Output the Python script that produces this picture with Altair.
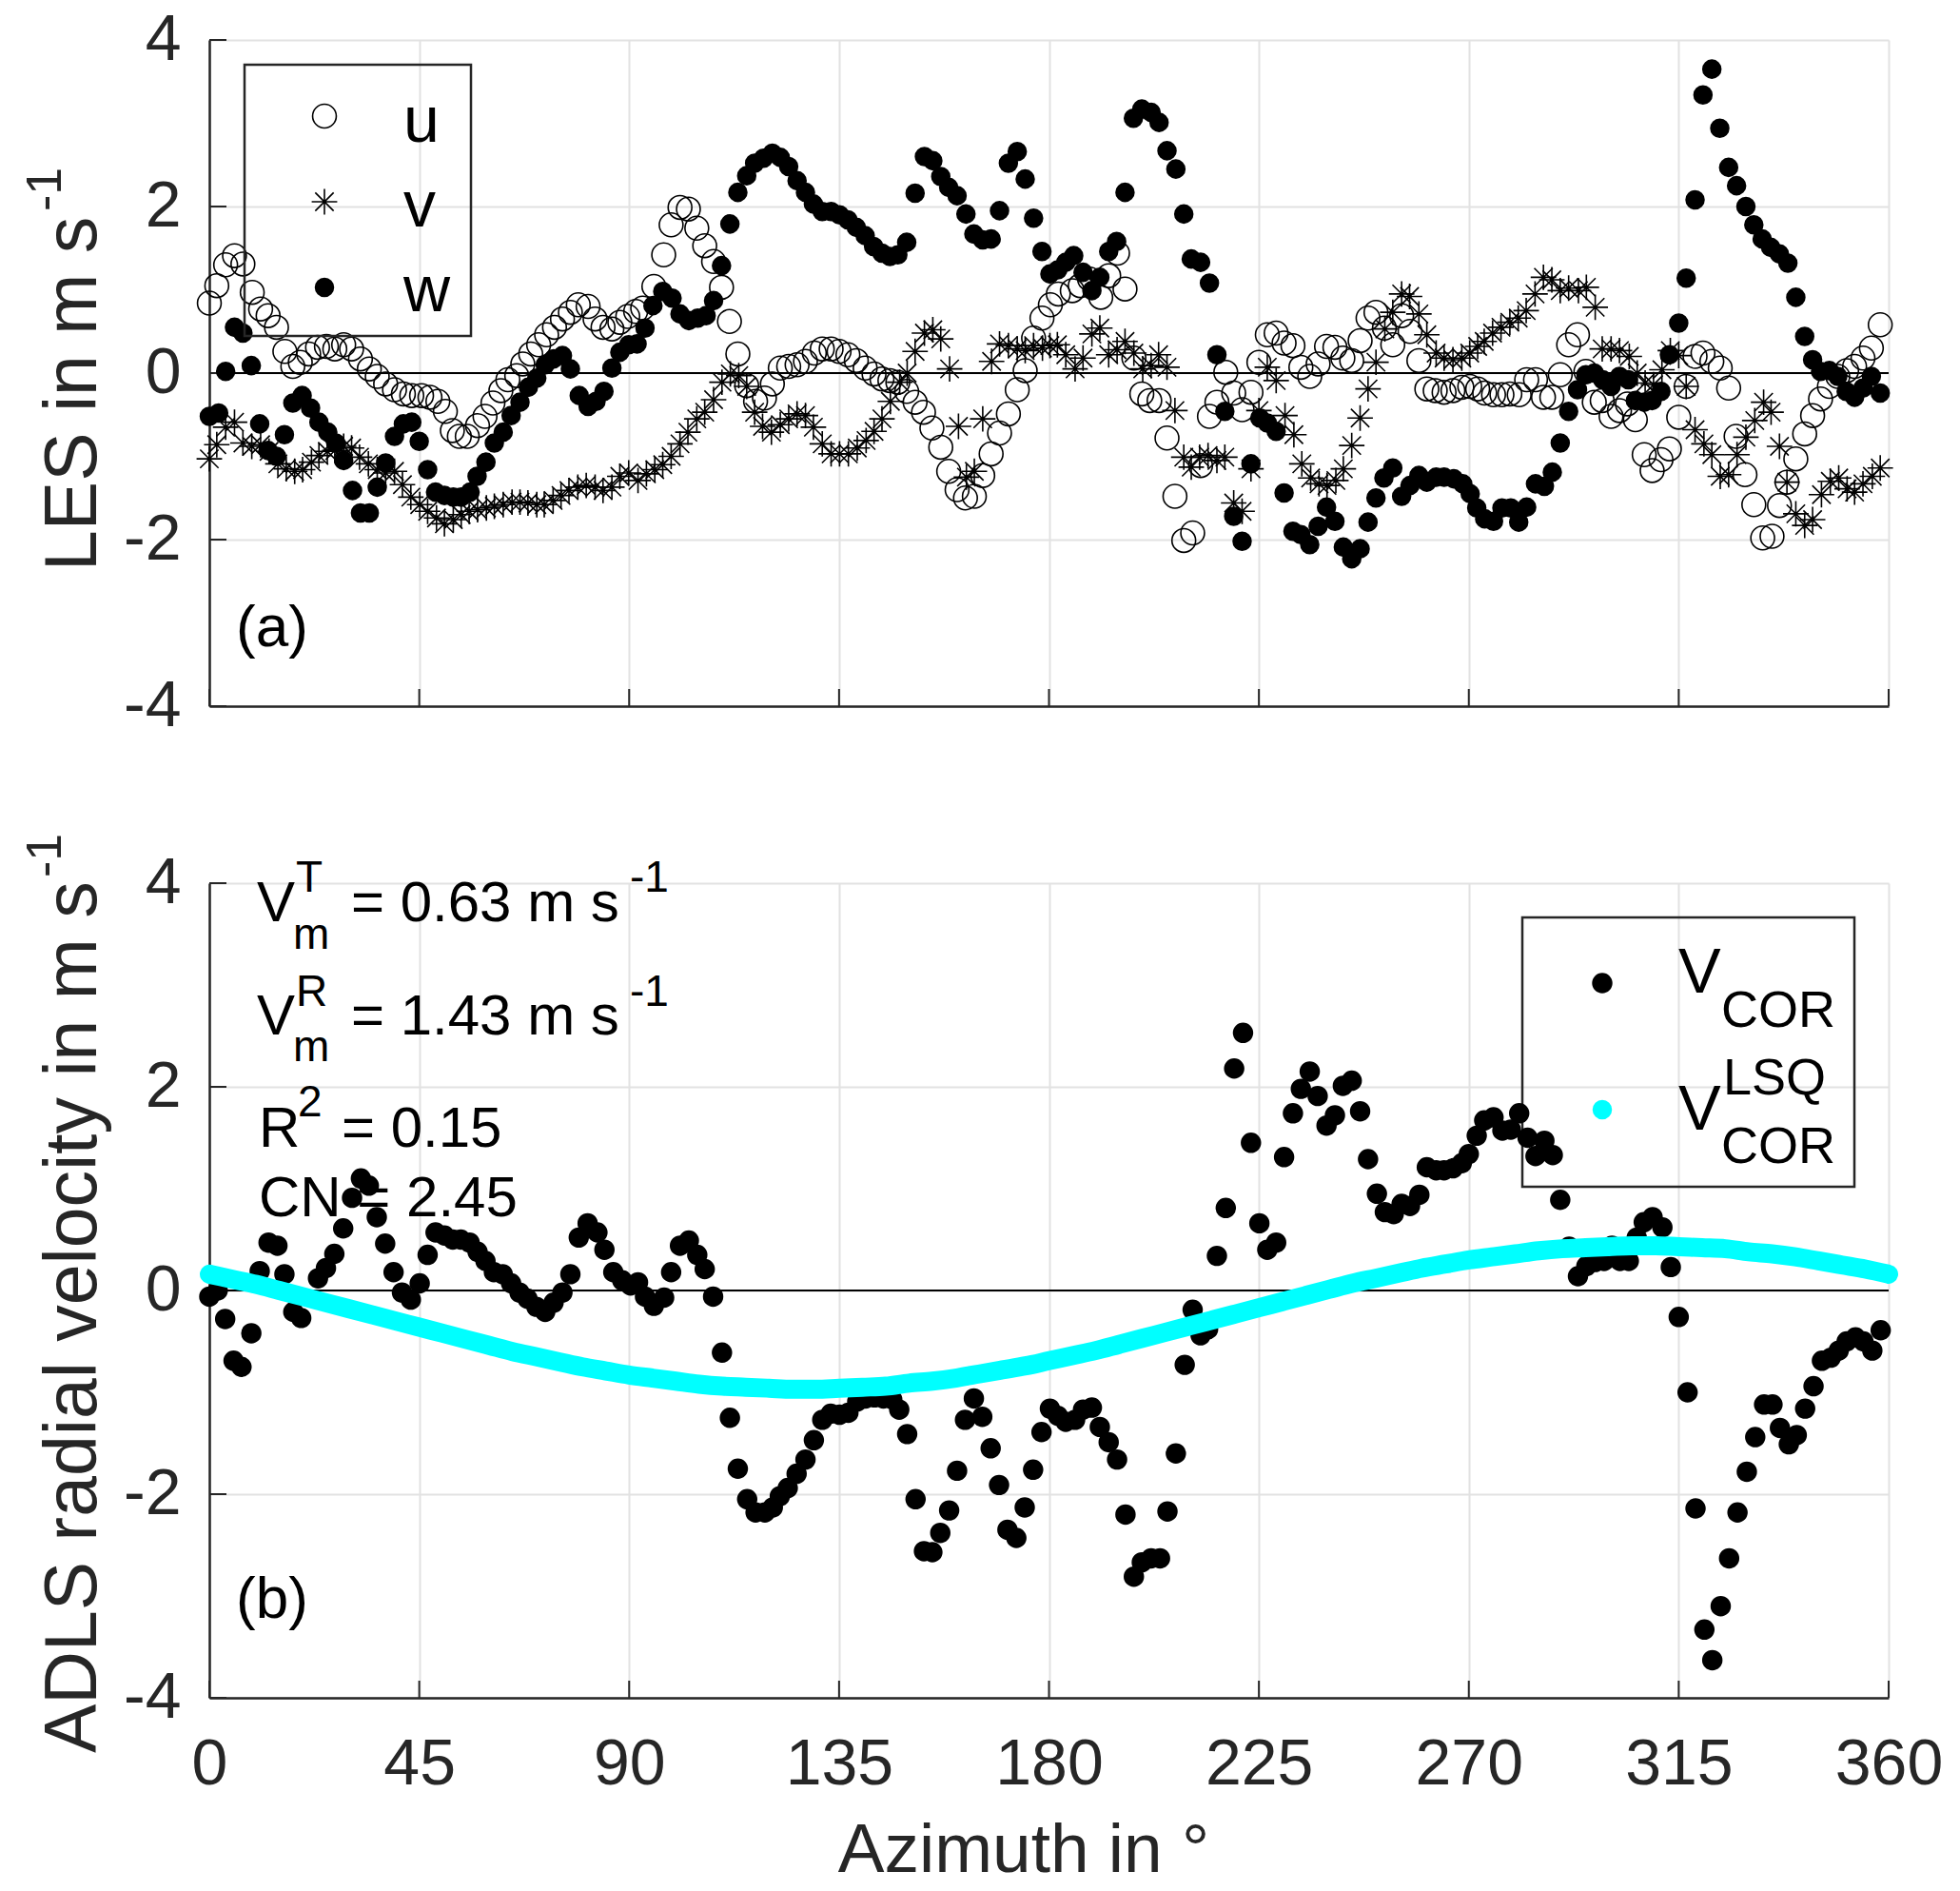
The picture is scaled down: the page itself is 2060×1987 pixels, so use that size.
import altair as alt
import pandas as pd

FONT = "Liberation Sans"
INK = "#262626"

# ---- panel (a): LES u, v, w ----
u_az = [0, 1.6, 3.5, 5.4, 7.2, 9.2, 11, 12.6, 14.4, 16.2, 17.9, 19.5, 21.3, 23.2, 25.1, 26.9, 28.8, 30.5, 32.4, 34.3,
        36, 37.8, 39.7, 41.6, 43.4, 45.5, 47.3, 49, 50.6, 52.1, 53.6, 55.3, 57.5, 59.1, 60.8, 62.5, 64, 65.9, 67.2, 68.9,
        70.6, 72.3, 74, 75.7, 77.4, 79.1, 81.2, 82.7, 84.4, 86.3, 88, 89.7, 91.4, 92.9, 95.3, 97.4, 99, 100.9, 102.7, 104.5,
        106.2, 108.1, 109.8, 111.5, 113.3, 115.2, 117.1, 119, 120.7, 122.4, 124.2, 126, 127.8, 129.7, 131.4, 133.3, 135,
        136.9, 138.7, 140.6, 142.5, 144.2, 145.9, 147.6, 149.5, 151.3, 153.1, 154.9, 156.8, 158.5, 160.3, 162.1, 164,
        165.8, 167.6, 169.4, 171.3, 173.2, 174.9, 176.7, 178.5, 180.3, 182, 185, 186.7, 188.7, 191.1, 192.8, 194.7, 196.3,
        198.2, 199.9, 201.6, 203.6, 205.3, 207, 208.9, 210.8, 212.5, 214.4, 216, 217.9, 219.6, 221.4, 223.3, 225, 226.8,
        228.7, 230.4, 232.3, 234, 235.9, 237.7, 239.5, 241.3, 243, 244.9, 246.7, 248.4, 250.1, 251.9, 253.7, 255.6, 257.4,
        259.3, 261, 262.8, 264.7, 266.6, 268.5, 270.2, 271.9, 273.4, 275.3, 277.1, 278.8, 280.8, 282.4, 284.3, 286, 287.8,
        289.6, 291.4, 293.3, 295.1, 296.9, 298.6, 300.5, 302.3, 304, 305.7, 307.6, 309.3, 311.2, 313, 315, 316.6, 318.5,
        320.2, 322.1, 323.9, 325.7, 327.3, 329.2, 331.1, 333, 335, 336.6, 338.2, 340.1, 342, 343.7, 345.4, 347.3, 349.1,
        351, 352.7, 354.5, 356.3, 358.2]
u_val = [0.84, 1.05, 1.30, 1.41, 1.31, 0.97, 0.77, 0.69, 0.55, 0.26, 0.08, 0.13, 0.23, 0.31, 0.32, 0.29, 0.34, 0.29, 0.17, 0.05,
         -0.04, -0.13, -0.20, -0.25, -0.27, -0.27, -0.29, -0.34, -0.46, -0.69, -0.76, -0.76, -0.63, -0.52, -0.36, -0.21, -0.08, -0.03, 0.11, 0.23,
         0.34, 0.46, 0.55, 0.65, 0.73, 0.82, 0.80, 0.65, 0.55, 0.53, 0.61, 0.68, 0.74, 0.78, 1.04, 1.42, 1.78, 1.99, 1.97, 1.74,
         1.53, 1.34, 1.03, 0.62, 0.23, -0.15, -0.34, -0.30, -0.13, 0.06, 0.08, 0.10, 0.14, 0.24, 0.29, 0.29, 0.26,
         0.22, 0.15, 0.06, -0.01, -0.07, -0.09, -0.11, -0.22, -0.35, -0.47, -0.66, -0.89, -1.18, -1.40, -1.50, -1.48,
         -1.23, -0.97, -0.72, -0.49, -0.20, 0.03, 0.42, 0.66, 0.82, 0.95, 0.99, 1.05, 1.13, 0.91, 1.17, 1.44, 1.01,
         0.18, -0.25, -0.33, -0.33, -0.78, -1.48, -2.01, -1.92, -1.11, -0.52, -0.35, 0.01, -0.24, -0.44, -0.23, 0.13, 0.46,
         0.48, 0.36, 0.33, 0.07, -0.04, 0.11, 0.32, 0.31, 0.18, 0.15, 0.39, 0.66, 0.73, 0.54, 0.34, 0.69, 0.50,
         0.15, -0.19, -0.21, -0.23, -0.21, -0.17, -0.16, -0.19, -0.24, -0.26, -0.26, -0.25, -0.26, -0.08, -0.08, -0.29, -0.29,
         -0.02, 0.34, 0.46, 0.02, -0.35, -0.33, -0.52, -0.45, -0.37, -0.56, -0.98, -1.17, -1.04, -0.91, -0.53, -0.16, 0.20,
         0.24, 0.14, 0.06, -0.18, -0.76, -1.22, -1.58, -1.98, -1.96, -1.59, -1.31, -1.03, -0.73, -0.51, -0.31, -0.16, -0.04,
         0.03, 0.08, 0.18, 0.30, 0.58]

v_az = [0, 1.6, 3.5, 5.4, 7.2, 9.1, 11, 12.8, 14.7, 16.5, 18.3, 20, 21.9, 23.5, 25.3, 26.9, 28.8, 30.5, 32.2, 34.1,
        36, 37.8, 39.7, 41.4, 43.2, 45.1, 46.8, 48.7, 50.4, 52.3, 54, 55.7, 57.5, 59.4, 61.1, 63, 64.9, 66.6, 68.3, 70.2,
        71.8, 73.7, 75.4, 77.1, 79, 80.8, 82.7, 84.4, 86.3, 88, 89.9, 91.9, 93.7, 95.5, 97.2, 99, 100.9, 102.6, 104.5,
        106.2, 108.1, 109.9, 111.7, 113.5, 115.2, 116.9, 118.6, 120.5, 122.4, 124.2, 126, 127.8, 129.5, 131.4, 133.3,
        135.1, 137, 138.9, 140.8, 142.5, 144.2, 146, 148, 149.6, 151.3, 153.3, 155.1, 156.8, 158.7, 160.6, 162.3, 164,
        165.8, 167.7, 169.4, 171.3, 173.2, 174.9, 176.7, 178.6, 180.2, 181.8, 183.6, 185.6, 187.3, 189.2, 190.9, 192.8,
        194.6, 196.3, 198.2, 200.1, 201.9, 203.5, 205.3, 207, 208.9, 210.5, 212.3, 214.1, 216, 217.7, 219.6, 221.4, 223.3,
        225, 226.8, 228.7, 230.6, 232.5, 234.2, 236.1, 237.9, 239.6, 241.5, 243.1, 244.9, 246.7, 248.4, 250.1, 252, 253.7,
        255.6, 257.3, 259.3, 261, 263, 264.7, 266.6, 268.5, 270.2, 271.9, 273.3, 275.1, 276.9, 278.8, 280.6, 282.3, 284.2,
        286, 287.8, 289.6, 291.4, 293.5, 295.2, 297.1, 298.6, 300.5, 302.3, 304.4, 306.1, 307.8, 309.6, 311.4, 313.2, 315,
        316.6, 318.5, 320.4, 322.1, 323.9, 325.7, 327.5, 329.4, 331.3, 333.2, 334.8, 336.6, 338.2, 340.1, 342, 343.7,
        345.6, 347.5, 349.3, 351.1, 352.7, 354.5, 356.5, 358.2]
v_val = [-1.03, -0.86, -0.65, -0.59, -0.84, -0.88, -0.86, -0.94, -1.09, -1.15, -1.18, -1.16, -1.07, -0.99, -0.94, -0.93, -0.88, -0.90, -1.01, -1.09,
         -1.16, -1.20, -1.18, -1.34, -1.49, -1.58, -1.66, -1.74, -1.81, -1.76, -1.70, -1.66, -1.64, -1.62, -1.60, -1.58, -1.55, -1.55, -1.56, -1.58,
         -1.58, -1.53, -1.47, -1.41, -1.37, -1.35, -1.37, -1.41, -1.37, -1.24, -1.20, -1.29, -1.21, -1.16, -1.10, -1.00, -0.85, -0.71, -0.55,
         -0.47, -0.32, -0.11, -0.01, -0.03, -0.16, -0.47, -0.64, -0.71, -0.62, -0.55, -0.49, -0.51, -0.65, -0.85, -0.97,
         -0.97, -0.97, -0.90, -0.81, -0.70, -0.55, -0.34, -0.11, 0.0, 0.26, 0.48, 0.52, 0.41, 0.05, -0.64, -1.25, -1.18,
         -0.55, 0.14, 0.35, 0.33, 0.29, 0.27, 0.33, 0.30, 0.33, 0.34, 0.22, 0.05, 0.18, 0.47, 0.54, 0.22,
         0.28, 0.38, 0.24, 0.05, 0.09, 0.22, 0.07, -0.45, -1.01, -1.13, -1.01, -0.99, -1.05, -1.01, -1.56, -1.66, -1.15,
         -0.45, 0.07, -0.09, -0.51, -0.74, -1.09, -1.26, -1.33, -1.35, -1.29, -1.15, -0.87, -0.54, -0.19, 0.13, 0.53, 0.73,
         0.95, 0.92, 0.71, 0.46, 0.24, 0.18, 0.16, 0.18, 0.24, 0.32, 0.38, 0.48, 0.55, 0.61, 0.66, 0.75, 0.95,
         1.15, 1.12, 0.99, 1.02, 0.99, 1.03, 0.79, 0.29, 0.29, 0.27, 0.20, 0.0, -0.12, -0.14, 0.04, 0.27, 0.21,
         -0.16, -0.68, -0.85, -0.98, -1.24, -1.22, -0.98, -0.77, -0.57, -0.35, -0.47, -0.88, -1.31, -1.69, -1.83, -1.76,
         -1.46, -1.30, -1.26, -1.39, -1.43, -1.33, -1.24, -1.14]

w_az = [0, 2, 3.5, 5.4, 7.2, 9, 10.8, 12.6, 14.4, 16.1, 17.9, 19.9, 21.7, 23.5, 25.4, 27.1, 28.8, 30.7, 32.4, 34.3,
        36, 37.8, 39.7, 41.6, 43.4, 45, 46.8, 48.5, 50.4, 52.3, 54, 55.9, 57.4, 59.3, 61.1, 63, 64.7, 66.6, 68.4, 70.2,
        72, 73.8, 75.7, 77.4, 79.3, 81.2, 82.9, 84.6, 86.3, 88, 89.9, 91.7, 93.4, 95.1, 97.2, 99.2, 100.9, 102.8, 104.7,
        106.5, 108.1, 109.8, 111.6, 113.3, 115.2, 116.9, 118.8, 120.7, 122.4, 124.2, 126, 127.8, 129.5, 131.4, 133.3,
        135.1, 136.9, 138.7, 140.6, 142.4, 144.2, 145.9, 147.6, 149.5, 151.3, 153.3, 155.1, 156.8, 158.5, 160.3, 162.2,
        163.9, 165.8, 167.6, 169.4, 171.3, 173.2, 174.9, 176.7, 178.5, 180.2, 181.9, 183.6, 185.3, 187.3, 189.2, 190.9,
        192.8, 194.5, 196.3, 198.1, 199.9, 201.9, 203.6, 205.3, 207.2, 208.9, 210.5, 212.5, 214.4, 216, 217.7, 219.6,
        221.4, 223.3, 225.2, 226.8, 228.7, 230.4, 232.3, 234, 235.9, 237.7, 239.5, 241.3, 243.1, 244.9, 246.7, 248.4,
        250.1, 251.8, 253.7, 255.6, 257.4, 259.3, 261, 263, 264.7, 266.8, 268.7, 270.3, 271.7, 273.4, 275.3, 277.1, 279,
        280.7, 282.4, 284.3, 286.2, 287.9, 289.6, 291.4, 293.3, 295.1, 296.9, 298.7, 300.5, 302.3, 304.2, 305.7, 307.6,
        309.3, 311.2, 313, 315, 316.6, 318.5, 320.2, 322.1, 323.8, 325.7, 327.4, 329.4, 331.1, 332.9, 334.7, 336.6, 338.4,
        340.1, 342, 343.7, 345.4, 347.3, 349.1, 350.9, 352.7, 354.5, 356.3, 358.2]
w_val = [-0.52, -0.48, 0.02, 0.55, 0.48, 0.09, -0.61, -0.93, -1.00, -0.74, -0.36, -0.27, -0.42, -0.59, -0.71, -0.84, -1.05, -1.41, -1.68, -1.68,
         -1.37, -1.08, -0.76, -0.61, -0.59, -0.82, -1.16, -1.43, -1.47, -1.49, -1.49, -1.43, -1.24, -1.07, -0.84, -0.71, -0.51, -0.35, -0.17, -0.06,
         0.10, 0.17, 0.21, 0.05, -0.27, -0.40, -0.34, -0.22, 0.06, 0.25, 0.34, 0.35, 0.54, 0.81, 0.98, 0.90, 0.71, 0.63, 0.66,
         0.69, 0.87, 1.29, 1.79, 2.17, 2.37, 2.52, 2.58, 2.64, 2.59, 2.48, 2.31, 2.17, 2.03, 1.94, 1.94,
         1.90, 1.84, 1.75, 1.65, 1.52, 1.44, 1.40, 1.42, 1.57, 2.16, 2.60, 2.55, 2.36, 2.23, 2.13, 1.91,
         1.67, 1.60, 1.61, 1.95, 2.52, 2.66, 2.33, 1.86, 1.46, 1.19, 1.24, 1.33, 1.41, 1.21, 0.99, 1.15,
         1.46, 1.58, 2.17, 3.06, 3.17, 3.13, 3.01, 2.67, 2.45, 1.91, 1.37, 1.33, 1.08, 0.22, -0.46, -1.72,
         -2.02, -1.09, -0.54, -0.60, -0.70, -1.44, -1.90, -1.94, -2.06, -1.84, -1.61, -1.78, -2.09, -2.23, -2.11, -1.79,
         -1.50, -1.26, -1.14, -1.48, -1.35, -1.23, -1.31, -1.25, -1.25, -1.27, -1.33, -1.45, -1.62, -1.75, -1.78, -1.62, -1.62,
         -1.79, -1.61, -1.33, -1.36, -1.19, -0.84, -0.46, -0.20, -0.02, 0.0, -0.08, -0.16, -0.04, -0.08, -0.33, -0.35,
         -0.33, -0.22, 0.22, 0.60, 1.14, 2.08, 3.34, 3.65, 2.94, 2.47, 2.25, 2.00, 1.78, 1.61, 1.51, 1.43, 1.32,
         0.91, 0.44, 0.16, 0.02, 0.03, -0.04, -0.22, -0.29, -0.18, -0.04, -0.24]

# ---- panel (b): ADLS radial velocity ----
cor_az = [0, 1.8, 3.4, 5.2, 6.9, 9, 10.8, 12.7, 14.6, 16.1, 18, 19.7, 23.3, 25, 26.8, 28.7, 30.6, 32.5, 34.2, 35.9,
          37.7, 39.5, 41.3, 43.2, 45.1, 46.8, 48.5, 50.4, 52.2, 53.9, 55.8, 57.5, 59.2, 61, 62.9, 64.7, 66.5, 68.2, 70.1,
          72, 73.8, 75.7, 77.4, 79.2, 81.1, 83.2, 84.7, 86.6, 88.5, 90.3, 91.9, 93.4, 95.3, 97.5, 99, 100.9, 102.8, 104.6,
          106.2, 108, 109.9, 111.6, 113.3, 115.3, 117.1, 119.1, 120.8, 122.3, 124, 125.9, 127.8, 129.6, 131.4, 133.2,
          135.1, 137, 138.9, 140.7, 142.6, 144.5, 146.4, 147.9, 149.6, 151.4, 153.2, 155, 156.7, 158.6, 160.3, 162,
          163.9, 165.7, 167.5, 169.3, 171.1, 173, 174.8, 176.6, 178.4, 180.2, 181.9, 183.6, 185.6, 187.3, 189.2, 190.9,
          192.8, 194.6, 196.4, 198.2, 199.9, 201.9, 203.8, 205.4, 207.2, 209.1, 210.8, 212.5, 214.1, 216, 217.9, 219.7,
          221.6, 223.3, 225.1, 226.8, 228.7, 230.4, 232.3, 234, 235.9, 237.6, 239.5, 241.3, 243, 244.9, 246.7, 248.4,
          250.3, 252, 253.9, 255.6, 257.4, 259.4, 261, 263, 264.7, 266.6, 268.5, 270, 271.7, 273.3, 275.3, 277.2, 279,
          280.8, 282.6, 284.3, 286.2, 288, 289.6, 291.5, 293.4, 295.2, 297.1, 299, 300.7, 302.4, 304.3, 306, 307.5, 309.4,
          311.5, 313.3, 315, 316.9, 318.6, 320.5, 322.2, 324, 325.8, 327.6, 329.6, 331.4, 333.3, 335.1, 336.7, 338.6,
          340.3, 342.1, 343.9, 345.7, 347.6, 349.3, 351, 352.9, 354.6, 356.5, 358.3]
cor_val = [-0.06, 0.0, -0.28, -0.69, -0.75, -0.42, 0.19, 0.47, 0.44, 0.16, -0.21, -0.27, 0.12, 0.22, 0.36, 0.61, 0.91, 1.10, 1.03, 0.72,
           0.46, 0.18, -0.02, -0.09, 0.07, 0.35, 0.57, 0.54, 0.50, 0.50, 0.47, 0.38, 0.29, 0.18, 0.16, 0.07, -0.02, -0.08, -0.16,
           -0.21, -0.12, -0.02, 0.16, 0.52, 0.66, 0.57, 0.40, 0.18, 0.10, 0.05, 0.08, -0.06, -0.15, -0.07, 0.18, 0.44, 0.49, 0.35,
           0.21, -0.06, -0.61, -1.25, -1.75, -2.05, -2.18, -2.18, -2.13, -2.02, -1.94, -1.80, -1.66, -1.47, -1.27, -1.21,
           -1.22, -1.20, -1.09, -1.06, -1.05, -1.06, -1.07, -1.17, -1.41, -2.05, -2.56, -2.57, -2.38, -2.16, -1.77, -1.27,
           -1.06, -1.24, -1.55, -1.91, -2.35, -2.43, -2.13, -1.76, -1.39, -1.16, -1.23, -1.29, -1.27, -1.17, -1.15, -1.34,
           -1.49, -1.66, -2.20, -2.81, -2.67, -2.63, -2.63, -2.17, -1.60, -0.73, -0.19, -0.44, -0.38, 0.34, 0.81, 2.18,
           2.53, 1.45, 0.66, 0.40, 0.47, 1.31, 1.74, 1.98, 2.15, 1.91, 1.62, 1.72, 2.01, 2.06, 1.76, 1.29,
           0.95, 0.77, 0.75, 0.85, 0.83, 0.94, 1.21, 1.18, 1.18, 1.20, 1.25, 1.34, 1.52, 1.67, 1.70, 1.57, 1.58,
           1.74, 1.50, 1.32, 1.47, 1.33, 0.89, 0.43, 0.14, 0.24, 0.28, 0.29, 0.44, 0.29, 0.29, 0.52, 0.67, 0.72,
           0.62, 0.23, -0.26, -1.00, -2.14, -3.33, -3.63, -3.10, -2.63, -2.18, -1.78, -1.44, -1.12, -1.12, -1.35, -1.51,
           -1.42, -1.16, -0.94, -0.69, -0.66, -0.59, -0.50, -0.46, -0.50, -0.59, -0.39]

lsq_az = list(range(0, 361, 5))
lsq_val = [0.16, 0.11, 0.06, 0.00, -0.06, -0.12, -0.18, -0.24, -0.30, -0.36, -0.42, -0.48, -0.54, -0.60, -0.65,
           -0.70, -0.75, -0.79, -0.83, -0.86, -0.89, -0.92, -0.94, -0.95, -0.96, -0.97, -0.97, -0.96, -0.95, -0.94,
           -0.91, -0.89, -0.86, -0.82, -0.78, -0.74, -0.69, -0.64, -0.59, -0.53, -0.47, -0.41, -0.35, -0.29, -0.23,
           -0.17, -0.11, -0.05, 0.01, 0.07, 0.12, 0.17, 0.22, 0.26, 0.30, 0.33, 0.36, 0.39, 0.41, 0.42,
           0.43, 0.44, 0.44, 0.43, 0.42, 0.41, 0.38, 0.36, 0.33, 0.29, 0.25, 0.21, 0.16]

x_ticks = [0, 45, 90, 135, 180, 225, 270, 315, 360]
y_ticks = [-4, -2, 0, 2, 4]

W = 1765
HA = 700
HB = 856
ASTERISK = "M-1,0L1,0M0,-1L0,1M-0.72,-0.72L0.72,0.72M-0.72,0.72L0.72,-0.72"

one = pd.DataFrame({"k": [0]})


def series(az, val):
    return pd.DataFrame({"az": az, "val": val})


def txt(s, x, y, size, angle=0, color="black", align="left"):
    return alt.Chart(pd.DataFrame({"s": [s]})).mark_text(
        font=FONT, fontSize=size, align=align, baseline="alphabetic", angle=angle, color=color
    ).encode(x=alt.value(x), y=alt.value(y), text="s:N")


def sym(x, y, **kw):
    return alt.Chart(one).mark_point(**kw).encode(x=alt.value(x), y=alt.value(y))


def box(x1, x2, y1, y2):
    return alt.Chart(one).mark_rect(fillOpacity=0, stroke=INK, strokeWidth=2.5).encode(
        x=alt.value(x1), x2=alt.value(x2), y=alt.value(y1), y2=alt.value(y2))


def frame(show_labels):
    xs = alt.X("az:Q", scale=alt.Scale(domain=[0, 360], nice=False),
               axis=alt.Axis(values=x_ticks, labels=show_labels, title=None))
    ys = alt.Y("val:Q", scale=alt.Scale(domain=[-4, 4], nice=False),
               axis=alt.Axis(values=y_ticks, title=None))
    return xs, ys


def decorations(h):
    xt = alt.Chart(pd.DataFrame({"az": x_ticks})).mark_rule(color=INK, strokeWidth=2).encode(
        x=alt.X("az:Q", scale=alt.Scale(domain=[0, 360], nice=False)),
        y=alt.value(h), y2=alt.value(h - 18))
    yt = alt.Chart(pd.DataFrame({"val": y_ticks})).mark_rule(color=INK, strokeWidth=2).encode(
        y=alt.Y("val:Q", scale=alt.Scale(domain=[-4, 4], nice=False)),
        x=alt.value(0), x2=alt.value(18))
    zero = alt.Chart(pd.DataFrame({"val": [0]})).mark_rule(color="black", strokeWidth=2).encode(
        y=alt.Y("val:Q", scale=alt.Scale(domain=[-4, 4], nice=False)),
        x=alt.value(0), x2=alt.value(W))
    return [zero, xt, yt]


U_STYLE = dict(shape="circle", filled=False, color="black", strokeWidth=1.6, size=620, opacity=1)
V_STYLE = dict(shape=ASTERISK, filled=False, color="black", strokeWidth=1.6, size=720, opacity=1)
W_STYLE = dict(shape="circle", filled=True, color="black", size=420, opacity=1)
COR_STYLE = dict(shape="circle", filled=True, color="black", size=460, opacity=1)

# ---- panel (a) ----
xa, ya = frame(False)
u_layer = alt.Chart(series(u_az, u_val)).mark_point(**U_STYLE).encode(x=xa, y=ya)
v_layer = alt.Chart(series(v_az, v_val)).mark_point(**V_STYLE).encode(x=xa, y=ya)
w_layer = alt.Chart(series(w_az, w_val)).mark_point(**W_STYLE).encode(x=xa, y=ya)

anchor = alt.Chart(one).mark_rule(strokeOpacity=0, strokeWidth=1).encode(
    x=alt.value(-212), y=alt.value(-34), y2=alt.value(-30))

panel_a = alt.layer(
    anchor,
    *decorations(HA),
    u_layer, v_layer, w_layer,
    box(37, 275, 26, 311),
    sym(121, 80, **U_STYLE),
    sym(121, 170, **V_STYLE),
    sym(121, 260, **W_STYLE),
    txt("u", 204, 107, 68),
    txt("v", 204, 196, 68),
    txt("w", 204, 285, 68),
    txt("(a)", 28, 637, 62),
    txt("LES in m s", -119, 558, 77, angle=270, color=INK),
    txt("-1", -156, 180, 52, angle=270, color=INK),
).properties(width=W, height=HA)

# ---- panel (b) ----
xb, yb = frame(True)
cor_layer = alt.Chart(series(cor_az, cor_val)).mark_point(**COR_STYLE).encode(x=xb, y=yb)
lsq_layer = alt.Chart(series(lsq_az, lsq_val)).mark_line(
    color="#00ffff", strokeWidth=20, interpolate="monotone", strokeCap="round").encode(x=xb, y=yb)

panel_b = alt.layer(
    *decorations(HB),
    box(1380, 1729, 36, 319),
    cor_layer, lsq_layer,
    sym(1464, 105, **COR_STYLE),
    sym(1464, 238, shape="circle", filled=True, color="#00ffff", size=420, opacity=1),
    txt("V", 1544, 115, 67),
    txt("COR", 1589, 151, 54),
    txt("V", 1544, 259, 67),
    txt("LSQ", 1591, 222, 54),
    txt("COR", 1589, 294, 54),
    txt("V", 50, 40, 60),
    txt("T", 91, 9, 46),
    txt("m", 88, 69, 46),
    txt("= 0.63 m s", 149, 40, 60),
    txt("-1", 442, 9, 46),
    txt("V", 50, 159, 60),
    txt("R", 91, 129, 46),
    txt("m", 88, 187, 46),
    txt("= 1.43 m s", 149, 159, 60),
    txt("-1", 442, 129, 46),
    txt("R", 52, 277, 60),
    txt("2", 93, 245, 46),
    txt("= 0.15", 139, 277, 60),
    txt("CN = 2.45", 52, 350, 60),
    txt("(b)", 28, 772, 62),
    txt("ADLS radial velocity in m s", -119, 914, 77, angle=270, color=INK),
    txt("-1", -156, -6, 52, angle=270, color=INK),
    txt("Azimuth in °", 856, 1039, 73, align="center", color=INK),
).properties(width=W, height=HB)

chart = alt.vconcat(panel_a, panel_b, spacing=186, bounds="flush").properties(
    padding=0
).configure_view(stroke=None).configure_axis(
    labelFont=FONT, labelFontSize=68, labelColor=INK, domainColor=INK, domainWidth=2.5,
    gridColor="#e2e2e2", gridWidth=2, ticks=False, tickSize=0, labelFlush=False,
    labelOverlap=False, labelExpr="'' + datum.value"
).configure_axisX(labelPadding=36).configure_axisY(labelPadding=30)

chart.save("out.html", embed_options={"renderer": "svg", "actions": False})
